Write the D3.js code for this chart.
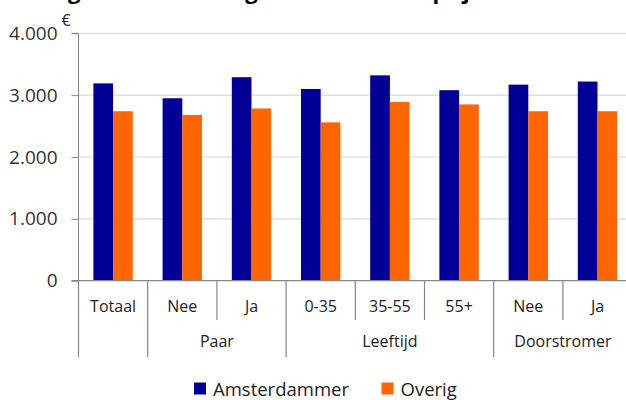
<!DOCTYPE html>
<html>
<head>
<meta charset="utf-8">
<script src="https://cdn.jsdelivr.net/npm/d3@7"></script>
<style>
  html, body { margin: 0; padding: 0; background: #fff; }
  svg { display: block; font-family: "Open Sans", "Noto Sans", sans-serif; }
</style>
</head>
<body>
<svg id="chart" width="626" height="400"></svg>
<script>
// Categories along the x axis and the group each one belongs to
const categories = ["Totaal", "Nee", "Ja", "0-35", "35-55", "55+", "Nee", "Ja"];
const groups = ["", "Paar", "Paar", "Leeftijd", "Leeftijd", "Leeftijd", "Doorstromer", "Doorstromer"];

// Series (euro)
const seriesNames = ["Amsterdammer", "Overig"];
const amsterdammer = [3190, 2950, 3290, 3100, 3320, 3080, 3170, 3220];
const overig = [2740, 2680, 2785, 2560, 2890, 2850, 2740, 2740];

// Y axis ticks
const yTicks = [0, 1000, 2000, 3000, 4000];

const colors = { Amsterdammer: "#000096", Overig: "#ff6600" };

const svg = d3.select("#chart");
const width = 626;

const plotLeft = 78.5;
const step = 69.2;
const plotRight = plotLeft + step * categories.length;

const nl = d3.formatLocale({ decimal: ",", thousands: ".", grouping: [3], currency: ["€", ""] });
const fmt = nl.format(",d");

const x = d3.scaleBand()
  .domain(d3.range(categories.length))
  .range([plotLeft, plotRight])
  .padding(0);

const xInner = d3.scaleBand()
  .domain(seriesNames)
  .range([0, x.bandwidth()])
  .paddingInner(0)
  .paddingOuter(0.756);

const y = d3.scaleLinear().domain([0, 4000]).range([280.7, 33.3]);

// Title (runs off the top edge)
svg.append("text")
  .attr("x", 24)
  .attr("y", -1)
  .attr("font-size", 22)
  .attr("font-weight", "bold")
  .attr("fill", "#000")
  .text("Hoogte inkomen en gemiddelde huurprijs");

// Gridlines
svg.append("g")
  .selectAll("line")
  .data(yTicks.filter(d => d > 0))
  .join("line")
  .attr("x1", plotLeft)
  .attr("x2", width)
  .attr("y1", d => y(d))
  .attr("y2", d => y(d))
  .attr("stroke", "#d9d9d9")
  .attr("stroke-width", 1.2);

// Y axis
const yAxis = svg.append("g")
  .attr("transform", `translate(${plotLeft},0)`)
  .call(d3.axisLeft(y).tickValues(yTicks).tickFormat(fmt).tickSize(7).tickPadding(14));
yAxis.select(".domain").attr("stroke", "#868686").attr("d", `M-7,${y(4000)}H0V${y(0)}`);
yAxis.selectAll(".tick line").attr("stroke", "#868686");
yAxis.selectAll(".tick text")
  .attr("font-size", 19)
  .attr("fill", "#333")
  .attr("font-family", "'Open Sans', sans-serif");

// Unit label
svg.append("text")
  .attr("x", 66)
  .attr("y", 26)
  .attr("text-anchor", "middle")
  .attr("font-size", 16)
  .attr("fill", "#222")
  .text("€");

// Bars
const data = categories.map((c, i) => ({
  i,
  values: [
    { key: "Amsterdammer", value: amsterdammer[i] },
    { key: "Overig", value: overig[i] }
  ]
}));

svg.append("g")
  .selectAll("g")
  .data(data)
  .join("g")
  .attr("transform", d => `translate(${x(d.i)},0)`)
  .selectAll("rect")
  .data(d => d.values)
  .join("rect")
  .attr("x", d => xInner(d.key))
  .attr("width", xInner.bandwidth())
  .attr("y", d => y(d.value))
  .attr("height", d => y(0) - y(d.value))
  .attr("fill", d => colors[d.key]);

// X axis baseline
svg.append("line")
  .attr("x1", plotLeft - 7)
  .attr("x2", width)
  .attr("y1", y(0))
  .attr("y2", y(0))
  .attr("stroke", "#868686")
  .attr("stroke-width", 1.2);

// Category separators: short within a group, long between groups
const sepBottomShort = 320;
const sepBottomLong = 357;
const boundaries = d3.range(categories.length + 1).map(k => ({
  x: k < categories.length ? x(k) : plotRight,
  long: k === 0 || k === categories.length || groups[k] !== groups[k - 1]
}));
svg.append("g")
  .selectAll("line")
  .data(boundaries)
  .join("line")
  .attr("x1", d => d.x)
  .attr("x2", d => d.x)
  .attr("y1", y(0))
  .attr("y2", d => d.long ? sepBottomLong : sepBottomShort)
  .attr("stroke", "#868686")
  .attr("stroke-width", 1.2);

// Category labels
svg.append("g")
  .selectAll("text")
  .data(categories)
  .join("text")
  .attr("x", (d, i) => x(i) + x.bandwidth() / 2)
  .attr("y", 312)
  .attr("text-anchor", "middle")
  .attr("font-size", 16)
  .attr("fill", "#222")
  .text(d => d);

// Group labels
const groupSpans = [];
groups.forEach((g, i) => {
  if (!g) return;
  const last = groupSpans[groupSpans.length - 1];
  if (last && last.name === g) last.end = i;
  else groupSpans.push({ name: g, start: i, end: i });
});
svg.append("g")
  .selectAll("text")
  .data(groupSpans)
  .join("text")
  .attr("x", d => (x(d.start) + x(d.end) + x.bandwidth()) / 2)
  .attr("y", 347)
  .attr("text-anchor", "middle")
  .attr("font-size", 16)
  .attr("fill", "#222")
  .text(d => d.name);

// Legend
const legend = svg.append("g");
const legendItems = [
  { key: "Amsterdammer", x: 194 },
  { key: "Overig", x: 381.5 }
];
legendItems.forEach(item => {
  legend.append("rect")
    .attr("x", item.x)
    .attr("y", 382.5)
    .attr("width", 12)
    .attr("height", 12)
    .attr("fill", colors[item.key]);
  legend.append("text")
    .attr("x", item.x + 19)
    .attr("y", 396)
    .attr("font-size", 18.5)
    .attr("fill", "#222")
    .text(item.key);
});
</script>
</body>
</html>
